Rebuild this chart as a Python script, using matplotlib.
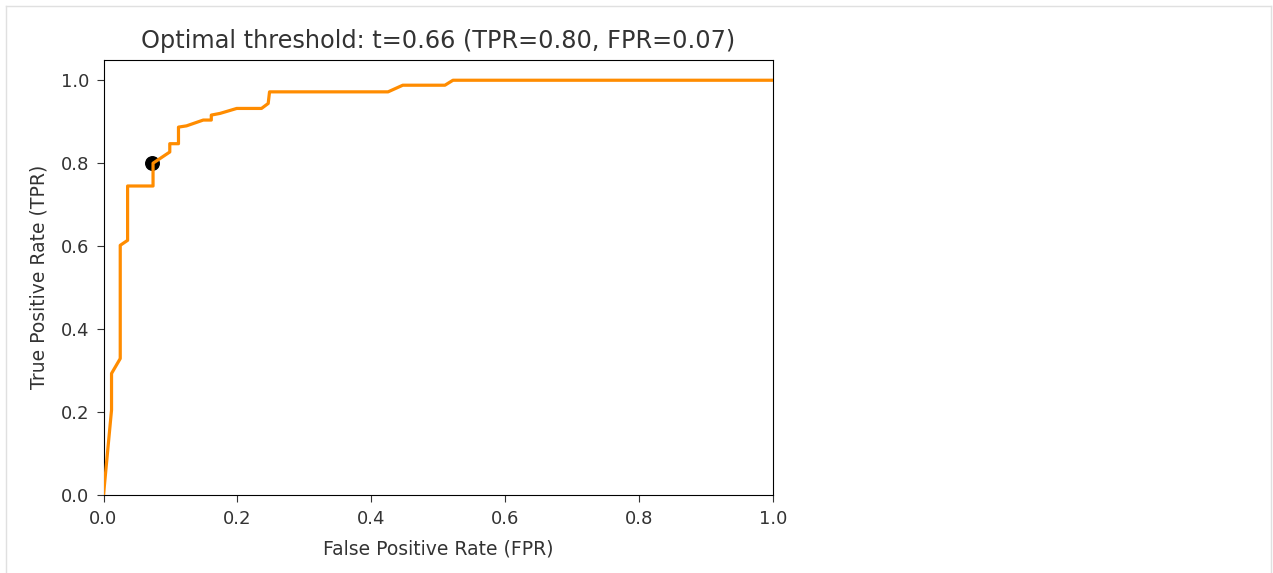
import matplotlib
matplotlib.use("Agg")
import matplotlib.pyplot as plt
from matplotlib.lines import Line2D

plt.rcParams['font.family'] = ['DejaVu Sans']

# ROC curve points (false positive rate, true positive rate)
fpr = [0.000, 0.012, 0.012, 0.025, 0.025, 0.036, 0.036, 0.074, 0.074, 0.099,
       0.099, 0.112, 0.112, 0.124, 0.149, 0.161, 0.161, 0.174, 0.199, 0.236,
       0.246, 0.248, 0.425, 0.447, 0.510, 0.522, 1.000]
tpr = [0.000, 0.205, 0.293, 0.329, 0.602, 0.614, 0.745, 0.745, 0.800, 0.827,
       0.847, 0.847, 0.887, 0.890, 0.904, 0.904, 0.916, 0.920, 0.932, 0.932,
       0.944, 0.972, 0.972, 0.988, 0.988, 1.000, 1.000]

# chosen operating point
best_t = 0.66
best_tpr = 0.80
best_fpr = 0.07
best_point_fpr = 0.073

W, H = 1273, 573
fig = plt.figure(figsize=(W / 100, H / 100), dpi=100)

# cell frame around the output
frame_kw = dict(color='#e0e0e0', lw=1.0, transform=fig.transFigure)
fig.add_artist(Line2D([6 / W, 6 / W], [0, 1 - 6 / H], **frame_kw))
fig.add_artist(Line2D([6 / W, 1271 / W], [1 - 6 / H, 1 - 6 / H], **frame_kw))
fig.add_artist(Line2D([1271 / W, 1271 / W], [0, 1 - 6 / H], **frame_kw))

left, right, top, bottom = 103.5, 773, 59.5, 495
ax = fig.add_axes([left / W, 1 - bottom / H, (right - left) / W, (bottom - top) / H])

ax.plot(fpr, tpr, color='darkorange', lw=2.3, zorder=3)
ax.scatter([best_point_fpr], [best_tpr], s=95, color='black', zorder=2)

ax.set_xlim(0, 1.0)
ax.set_ylim(0, 1.05)
ax.set_xticks([0.0, 0.2, 0.4, 0.6, 0.8, 1.0])
ax.set_yticks([0.0, 0.2, 0.4, 0.6, 0.8, 1.0])
ax.tick_params(labelsize=13, colors='#333333', length=5)
ax.tick_params(axis='x', pad=6)
ax.tick_params(axis='y', pad=5)
ax.set_xlabel('False Positive Rate (FPR)', fontsize=13.5, color='#333333', labelpad=8)
ax.set_ylabel('True Positive Rate (TPR)', fontsize=13.5, color='#333333', labelpad=9)
ax.set_title(f'Optimal threshold: t={best_t:.2f} (TPR={best_tpr:.2f}, FPR={best_fpr:.2f})',
             fontsize=17.3, color='#333333', pad=8)

fig.savefig('out.png', dpi=100)
